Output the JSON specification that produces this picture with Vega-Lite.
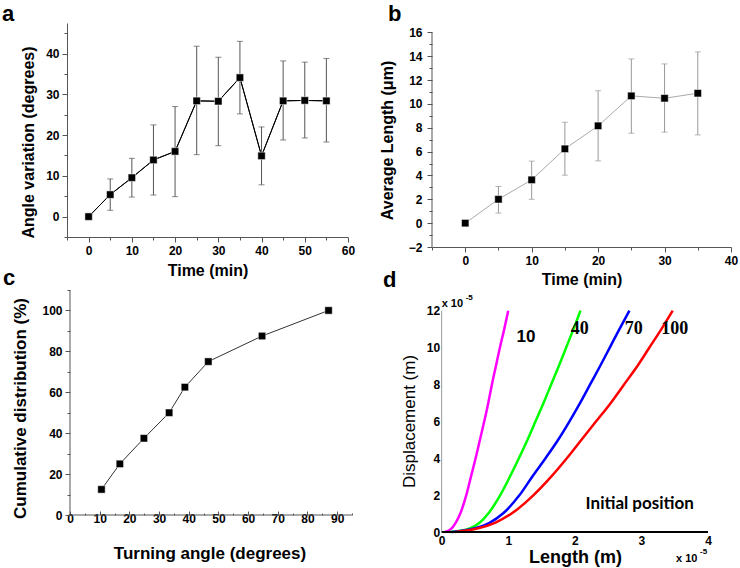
{
  "$schema": "https://vega.github.io/schema/vega-lite/v6.json",
  "autosize": {"type": "none"},
  "padding": {"left": 67, "top": 23, "right": 673, "bottom": 545},
  "background": "white",
  "config": {
    "view": {"stroke": null}
  },
  "columns": 2,
  "bounds": "flush",
  "spacing": {"row": 43, "column": 80},
  "concat": [
    {
      "width": 281, "height": 214,
      "resolve": {"axis": {"x": "independent", "y": "independent"}},
      "data": {"values": [
        {"t": 0, "v": 0},
        {"t": 5, "v": 5.4, "lo": 1.55, "hi": 9.25},
        {"t": 10, "v": 9.55, "lo": 4.8, "hi": 14.3},
        {"t": 15, "v": 13.9, "lo": 5.3, "hi": 22.5},
        {"t": 20, "v": 16.0, "lo": 4.9, "hi": 27.0},
        {"t": 25, "v": 28.4, "lo": 15.2, "hi": 41.8},
        {"t": 30, "v": 28.3, "lo": 17.4, "hi": 39.1},
        {"t": 35, "v": 34.1, "lo": 25.2, "hi": 43.0},
        {"t": 40, "v": 14.9, "lo": 7.8, "hi": 22.0},
        {"t": 45, "v": 28.4, "lo": 18.8, "hi": 38.2},
        {"t": 50, "v": 28.5, "lo": 19.3, "hi": 37.9},
        {"t": 55, "v": 28.4, "lo": 18.3, "hi": 38.8}
      ]},
      "layer": [
        {
          "mark": {"type": "line", "color": "black", "strokeWidth": 1},
          "encoding": {
            "x": {"field": "t", "type": "quantitative", "scale": {"domain": [-5, 60], "nice": false, "zero": false},
              "axis": {"orient": "bottom", "values": [0,10,20,30,40,50,60], "tickSize": 5,
                "labelFont": "Liberation Sans", "labelFontWeight": "bold", "labelFontSize": 12, "labelColor": "black",
                "labelOverlap": false, "labelFlush": false, "labelBound": false, "labelPadding": 3, "grid": false,
                "domainColor": "#555", "tickColor": "#555",
                "titleFont": "Liberation Sans", "titleFontWeight": "bold", "titleFontSize": 16, "titleColor": "black",
                "title": "Time (min)", "titleY": 38, "titleBaseline": "alphabetic"}},
            "y": {"field": "v", "type": "quantitative", "scale": {"domain": [-5, 47.5], "nice": false, "zero": false},
              "axis": {"orient": "left", "values": [0,10,20,30,40], "tickSize": 5,
                "labelFont": "Liberation Sans", "labelFontWeight": "bold", "labelFontSize": 12, "labelColor": "black",
                "labelOverlap": false, "labelFlush": false, "labelBound": false, "labelPadding": 3, "grid": false,
                "domainColor": "#555", "tickColor": "#555",
                "titleFont": "Liberation Sans", "titleFontWeight": "bold", "titleFontSize": 16, "titleColor": "black",
                "title": "Angle variation (degrees)", "titleX": -34, "titleY": 119, "titleBaseline": "alphabetic"}}
          }
        },
        {
          "data": {"values": [{}]},
          "mark": {"type": "text", "text": ""},
          "encoding": {
            "x": {"datum": 0, "type": "quantitative",
              "axis": {"orient": "bottom", "values": [-5,5,15,25,35,45,55], "labels": false, "domain": false, "tickSize": 3, "tickColor": "#555", "grid": false, "title": null}},
            "y": {"datum": 0, "type": "quantitative",
              "axis": {"orient": "left", "values": [-5,5,15,25,35,45], "labels": false, "domain": false, "tickSize": 3, "tickColor": "#555", "grid": false, "title": null}}
          }
        },
        {
          "transform": [{"filter": "isValid(datum.lo)"}],
          "mark": {"type": "rule", "color": "#555", "strokeWidth": 1},
          "encoding": {
            "x": {"field": "t", "type": "quantitative", "axis": null},
            "y": {"field": "lo", "type": "quantitative", "axis": null},
            "y2": {"field": "hi"}
          }
        },
        {
          "transform": [{"filter": "isValid(datum.lo)"}, {"fold": ["lo", "hi"], "as": ["k", "e"]}],
          "mark": {"type": "tick", "orient": "horizontal", "color": "#555", "size": 6, "thickness": 1},
          "encoding": {
            "x": {"field": "t", "type": "quantitative", "axis": null},
            "y": {"field": "e", "type": "quantitative", "axis": null}
          }
        },
        {
          "mark": {"type": "line", "color": "black", "strokeWidth": 1},
          "encoding": {
            "x": {"field": "t", "type": "quantitative", "axis": null},
            "y": {"field": "v", "type": "quantitative", "axis": null}
          }
        },
        {
          "mark": {"type": "point", "shape": "square", "filled": true, "fill": "black", "stroke": "white", "strokeWidth": 0.5, "size": 55, "opacity": 1},
          "encoding": {
            "x": {"field": "t", "type": "quantitative", "axis": null},
            "y": {"field": "v", "type": "quantitative", "axis": null}
          }
        },
        {
          "data": {"values": [{}]},
          "mark": {"type": "text", "text": "a", "align": "left", "baseline": "alphabetic", "dx": -65, "dy": -2, "font": "Liberation Sans", "fontSize": 22, "fontWeight": "bold", "color": "black"},
          "encoding": {"x": {"datum": -5, "type": "quantitative", "axis": null}, "y": {"datum": 47.5, "type": "quantitative", "axis": null}}
        }
      ]
    },
    {
      "width": 299, "height": 224,
      "resolve": {"axis": {"x": "independent", "y": "independent"}},
      "data": {"values": [
        {"t": 0, "v": 0},
        {"t": 5, "v": 2.0, "lo": 0.84, "hi": 3.07},
        {"t": 10, "v": 3.63, "lo": 2.0, "hi": 5.2},
        {"t": 15, "v": 6.23, "lo": 4.02, "hi": 8.46},
        {"t": 20, "v": 8.16, "lo": 5.22, "hi": 11.1},
        {"t": 25, "v": 10.67, "lo": 7.54, "hi": 13.77},
        {"t": 30, "v": 10.47, "lo": 7.63, "hi": 13.35},
        {"t": 35, "v": 10.89, "lo": 7.4, "hi": 14.36}
      ]},
      "layer": [
        {
          "mark": {"type": "line", "color": "#aaa", "strokeWidth": 1},
          "encoding": {
            "x": {"field": "t", "type": "quantitative", "scale": {"domain": [-5, 40], "nice": false, "zero": false},
              "axis": {"orient": "bottom", "values": [0,10,20,30,40], "tickSize": 5,
                "labelFont": "Liberation Sans", "labelFontWeight": "bold", "labelFontSize": 12, "labelColor": "black",
                "labelOverlap": false, "labelFlush": false, "labelBound": false, "labelPadding": 3, "grid": false,
                "domainColor": "#555", "tickColor": "#555",
                "titleFont": "Liberation Sans", "titleFontWeight": "bold", "titleFontSize": 16, "titleColor": "black",
                "title": "Time (min)", "titleY": 37, "titleBaseline": "alphabetic"}},
            "y": {"field": "v", "type": "quantitative", "scale": {"domain": [-2, 16.78], "nice": false, "zero": false},
              "axis": {"orient": "left", "values": [-2,0,2,4,6,8,10,12,14,16], "tickSize": 5, "domain": false,
                "labelFont": "Liberation Sans", "labelFontWeight": "bold", "labelFontSize": 12, "labelColor": "black",
                "labelOverlap": false, "labelFlush": false, "labelBound": false, "labelPadding": 5, "grid": false,
                "domainColor": "#555", "tickColor": "#555",
                "titleFont": "Liberation Sans", "titleFontWeight": "bold", "titleFontSize": 16, "titleColor": "black",
                "title": "Average Length (μm)", "titleX": -40, "titleY": 117, "titleBaseline": "alphabetic"}}
          }
        },
        {
          "data": {"values": [{}]},
          "mark": {"type": "text", "text": ""},
          "encoding": {
            "x": {"datum": 0, "type": "quantitative",
              "axis": {"orient": "bottom", "values": [-5,5,15,25,35], "labels": false, "domain": false, "tickSize": 3, "tickColor": "#555", "grid": false, "title": null}},
            "y": {"datum": 0, "type": "quantitative",
              "axis": {"orient": "left", "values": [-1,1,3,5,7,9,11,13,15], "labels": false, "domain": false, "tickSize": 3, "tickColor": "#555", "grid": false, "title": null}}
          }
        },
        {
          "transform": [{"filter": "isValid(datum.lo)"}],
          "mark": {"type": "rule", "color": "#999", "strokeWidth": 1},
          "encoding": {
            "x": {"field": "t", "type": "quantitative", "axis": null},
            "y": {"field": "lo", "type": "quantitative", "axis": null},
            "y2": {"field": "hi"}
          }
        },
        {
          "transform": [{"filter": "isValid(datum.lo)"}, {"fold": ["lo", "hi"], "as": ["k", "e"]}],
          "mark": {"type": "tick", "orient": "horizontal", "color": "#999", "size": 6, "thickness": 1},
          "encoding": {
            "x": {"field": "t", "type": "quantitative", "axis": null},
            "y": {"field": "e", "type": "quantitative", "axis": null}
          }
        },
        {
          "data": {"values": [{}]},
          "mark": {"type": "rule", "color": "#555", "strokeWidth": 1},
          "encoding": {"x": {"datum": -5, "type": "quantitative", "axis": null}, "y": {"datum": -2, "type": "quantitative", "axis": null}, "y2": {"datum": 16}}
        },
        {
          "mark": {"type": "point", "shape": "square", "filled": true, "fill": "black", "stroke": "white", "strokeWidth": 0.5, "size": 55, "opacity": 1},
          "encoding": {
            "x": {"field": "t", "type": "quantitative", "axis": null},
            "y": {"field": "v", "type": "quantitative", "axis": null}
          }
        },
        {
          "data": {"values": [{}]},
          "mark": {"type": "text", "text": "b", "align": "left", "baseline": "alphabetic", "dx": -44, "dy": -2, "font": "Liberation Sans", "fontSize": 22, "fontWeight": "bold", "color": "black"},
          "encoding": {"x": {"datum": -5, "type": "quantitative", "axis": null}, "y": {"datum": 16.78, "type": "quantitative", "axis": null}}
        }
      ]
    },
    {
      "width": 285, "height": 225,
      "resolve": {"axis": {"x": "independent", "y": "independent"}},
      "data": {"values": [
        {"a": 10.6, "c": 12.5},
        {"a": 16.8, "c": 25},
        {"a": 24.9, "c": 37.5},
        {"a": 33.4, "c": 50},
        {"a": 38.7, "c": 62.5},
        {"a": 46.6, "c": 75},
        {"a": 64.7, "c": 87.5},
        {"a": 87.1, "c": 100}
      ]},
      "layer": [
        {
          "mark": {"type": "line", "color": "#333", "strokeWidth": 1},
          "encoding": {
            "x": {"field": "a", "type": "quantitative", "scale": {"domain": [-1.01, 95], "nice": false, "zero": false},
              "axis": {"orient": "bottom", "values": [0,10,20,30,40,50,60,70,80,90], "tickSize": -4, "domain": false,
                "labelFont": "Liberation Sans", "labelFontWeight": "bold", "labelFontSize": 12, "labelColor": "black",
                "labelOverlap": false, "labelFlush": false, "labelBound": false, "labelPadding": 2, "grid": false,
                "domainColor": "#555", "tickColor": "#555",
                "titleFont": "Liberation Sans", "titleFontWeight": "bold", "titleFontSize": 17, "titleColor": "black",
                "title": "Turning angle (degrees)", "titleY": 43, "titleBaseline": "alphabetic"}},
            "y": {"field": "c", "type": "quantitative", "scale": {"domain": [0, 110], "nice": false, "zero": false},
              "axis": {"orient": "left", "values": [0,20,40,60,80,100], "tickSize": 5, "domain": false, "offset": -3,
                "labelFont": "Liberation Sans", "labelFontWeight": "bold", "labelFontSize": 12, "labelColor": "black",
                "labelOverlap": false, "labelFlush": false, "labelBound": false, "labelPadding": 3, "grid": false,
                "domainColor": "#555", "tickColor": "#555",
                "titleFont": "Liberation Sans", "titleFontWeight": "bold", "titleFontSize": 17, "titleColor": "black",
                "title": "Cumulative distribution (%)", "titleX": -45, "titleY": 118, "titleBaseline": "alphabetic"}}
          }
        },
        {
          "data": {"values": [{}]},
          "mark": {"type": "text", "text": ""},
          "encoding": {
            "x": {"datum": 0, "type": "quantitative",
              "axis": {"orient": "bottom", "values": [5,15,25,35,45,55,65,75,85,95], "labels": false, "domain": false, "tickSize": -2, "tickColor": "#555", "grid": false, "title": null}},
            "y": {"datum": 0, "type": "quantitative",
              "axis": {"orient": "left", "values": [10,30,50,70,90,110], "labels": false, "domain": false, "offset": -3, "tickSize": 3, "tickColor": "#555", "grid": false, "title": null}}
          }
        },
        {
          "data": {"values": [{}]},
          "mark": {"type": "rule", "color": "#555", "strokeWidth": 1},
          "encoding": {"x": {"datum": 0, "type": "quantitative", "axis": null}, "y": {"datum": 0, "type": "quantitative", "axis": null}, "y2": {"datum": 110}}
        },
        {
          "data": {"values": [{}]},
          "mark": {"type": "rule", "color": "#555", "strokeWidth": 1},
          "encoding": {"x": {"datum": 0, "type": "quantitative", "axis": null}, "x2": {"datum": 95}, "y": {"datum": 0, "type": "quantitative", "axis": null}}
        },
        {
          "mark": {"type": "point", "shape": "square", "filled": true, "fill": "black", "stroke": "white", "strokeWidth": 0.5, "size": 55, "opacity": 1},
          "encoding": {
            "x": {"field": "a", "type": "quantitative", "axis": null},
            "y": {"field": "c", "type": "quantitative", "axis": null}
          }
        },
        {
          "data": {"values": [{}]},
          "mark": {"type": "text", "text": "c", "align": "left", "baseline": "alphabetic", "dx": -64, "dy": -5, "font": "Liberation Sans", "fontSize": 22, "fontWeight": "bold", "color": "black"},
          "encoding": {"x": {"datum": -1.01, "type": "quantitative", "axis": null}, "y": {"datum": 110, "type": "quantitative", "axis": null}}
        }
      ]
    },
    {
      "width": 276, "height": 242,
      "data": {"values": [
        {"t": "10", "x": 0.05, "y": 0}, {"t": "10", "x": 0.15, "y": 0.2}, {"t": "10", "x": 0.21, "y": 0.5},
        {"t": "10", "x": 0.28, "y": 1}, {"t": "10", "x": 0.37, "y": 2}, {"t": "10", "x": 0.44, "y": 3},
        {"t": "10", "x": 0.51, "y": 4}, {"t": "10", "x": 0.575, "y": 5}, {"t": "10", "x": 0.64, "y": 6},
        {"t": "10", "x": 0.7, "y": 7}, {"t": "10", "x": 0.755, "y": 8}, {"t": "10", "x": 0.815, "y": 9},
        {"t": "10", "x": 0.875, "y": 10}, {"t": "10", "x": 0.94, "y": 11}, {"t": "10", "x": 1.0, "y": 12},
        {"t": "40", "x": 0.12, "y": 0}, {"t": "40", "x": 0.42, "y": 0.2}, {"t": "40", "x": 0.57, "y": 0.5},
        {"t": "40", "x": 0.7, "y": 1}, {"t": "40", "x": 0.88, "y": 2}, {"t": "40", "x": 1.025, "y": 3},
        {"t": "40", "x": 1.16, "y": 4}, {"t": "40", "x": 1.29, "y": 5}, {"t": "40", "x": 1.41, "y": 6},
        {"t": "40", "x": 1.53, "y": 7}, {"t": "40", "x": 1.645, "y": 8}, {"t": "40", "x": 1.76, "y": 9},
        {"t": "40", "x": 1.87, "y": 10}, {"t": "40", "x": 1.98, "y": 11}, {"t": "40", "x": 2.085, "y": 12},
        {"t": "70", "x": 0.15, "y": 0}, {"t": "70", "x": 0.5, "y": 0.2}, {"t": "70", "x": 0.72, "y": 0.5},
        {"t": "70", "x": 0.92, "y": 1}, {"t": "70", "x": 1.17, "y": 2}, {"t": "70", "x": 1.36, "y": 3},
        {"t": "70", "x": 1.56, "y": 4}, {"t": "70", "x": 1.75, "y": 5}, {"t": "70", "x": 1.92, "y": 6},
        {"t": "70", "x": 2.08, "y": 7}, {"t": "70", "x": 2.23, "y": 8}, {"t": "70", "x": 2.38, "y": 9},
        {"t": "70", "x": 2.525, "y": 10}, {"t": "70", "x": 2.67, "y": 11}, {"t": "70", "x": 2.82, "y": 12},
        {"t": "100", "x": 0.2, "y": 0}, {"t": "100", "x": 0.55, "y": 0.2}, {"t": "100", "x": 0.8, "y": 0.5},
        {"t": "100", "x": 1.05, "y": 1}, {"t": "100", "x": 1.38, "y": 2}, {"t": "100", "x": 1.645, "y": 3},
        {"t": "100", "x": 1.88, "y": 4}, {"t": "100", "x": 2.1, "y": 5}, {"t": "100", "x": 2.32, "y": 6},
        {"t": "100", "x": 2.54, "y": 7}, {"t": "100", "x": 2.74, "y": 8}, {"t": "100", "x": 2.94, "y": 9},
        {"t": "100", "x": 3.12, "y": 10}, {"t": "100", "x": 3.3, "y": 11}, {"t": "100", "x": 3.47, "y": 12}
      ]},
      "layer": [
        {
          "mark": {"type": "line", "strokeWidth": 2.5, "interpolate": "monotone"},
          "encoding": {
            "x": {"field": "x", "type": "quantitative", "scale": {"domain": [-0.145, 4], "nice": false, "zero": false},
              "axis": {"values": [0,1,2,3,4], "format": "d", "domain": false, "ticks": false,
                "labelFont": "Liberation Sans", "labelFontWeight": "bold", "labelFontSize": 12, "labelColor": "black",
                "labelOverlap": false, "labelFlush": false, "labelBound": false, "labelPadding": 3, "grid": false,
                "titleFont": "Liberation Sans", "titleFontWeight": "bold", "titleFontSize": 18, "titleColor": "black",
                "title": "Length (m)", "titleX": 143, "titleY": 30, "titleBaseline": "alphabetic"}},
            "y": {"field": "y", "type": "quantitative", "scale": {"domain": [0, 13.12], "nice": false, "zero": false},
              "axis": {"values": [0,2,4,6,8,10,12], "format": "d", "domain": false, "ticks": false, "offset": -9.7,
                "labelFont": "Liberation Sans", "labelFontWeight": "bold", "labelFontSize": 12, "labelColor": "black",
                "labelOverlap": false, "labelFlush": false, "labelBound": false, "labelPadding": 2, "grid": false,
                "titleFont": "Liberation Sans", "titleFontWeight": "normal", "titleFontSize": 17, "titleColor": "black",
                "title": "Displacement (m)", "titleX": -27, "titleY": 131, "titleBaseline": "alphabetic"}},
            "color": {"field": "t", "type": "nominal", "scale": {"domain": ["10", "40", "70", "100"], "range": ["#ff00ff", "#00ff00", "#0000ff", "#ff0000"]}, "legend": null},
            "order": {"field": "y", "type": "quantitative"}
          }
        },
        {
          "data": {"values": [{}]},
          "mark": {"type": "rule", "color": "#999", "strokeWidth": 1},
          "encoding": {"x": {"datum": 0, "type": "quantitative"}, "y": {"datum": 0, "type": "quantitative"}, "y2": {"datum": 12}}
        },
        {
          "data": {"values": [{}]},
          "mark": {"type": "rule", "color": "black", "strokeWidth": 2},
          "encoding": {"x": {"datum": 0, "type": "quantitative"}, "x2": {"datum": 4}, "y": {"datum": 0, "type": "quantitative"}}
        },
        {
          "data": {"values": [{}]},
          "mark": {"type": "text", "text": "10", "align": "center", "baseline": "alphabetic", "font": "Liberation Sans", "fontSize": 17, "fontWeight": "bold", "color": "black"},
          "encoding": {"x": {"datum": 1.265, "type": "quantitative"}, "y": {"datum": 10.31, "type": "quantitative"}}
        },
        {
          "data": {"values": [{}]},
          "mark": {"type": "text", "text": "40", "align": "center", "baseline": "alphabetic", "font": "Liberation Serif", "fontSize": 18, "fontWeight": "bold", "color": "black"},
          "encoding": {"x": {"datum": 2.075, "type": "quantitative"}, "y": {"datum": 10.73, "type": "quantitative"}}
        },
        {
          "data": {"values": [{}]},
          "mark": {"type": "text", "text": "70", "align": "center", "baseline": "alphabetic", "font": "Liberation Serif", "fontSize": 18, "fontWeight": "bold", "color": "black"},
          "encoding": {"x": {"datum": 2.885, "type": "quantitative"}, "y": {"datum": 10.73, "type": "quantitative"}}
        },
        {
          "data": {"values": [{}]},
          "mark": {"type": "text", "text": "100", "align": "center", "baseline": "alphabetic", "font": "Liberation Serif", "fontSize": 18, "fontWeight": "bold", "color": "black"},
          "encoding": {"x": {"datum": 3.5, "type": "quantitative"}, "y": {"datum": 10.73, "type": "quantitative"}}
        },
        {
          "data": {"values": [{}]},
          "mark": {"type": "text", "text": "Initial position", "align": "center", "baseline": "alphabetic", "font": "Lato", "fontSize": 17, "fontWeight": "bold", "color": "black"},
          "encoding": {"x": {"datum": 2.975, "type": "quantitative"}, "y": {"datum": 1.23, "type": "quantitative"}}
        },
        {
          "data": {"values": [{}]},
          "mark": {"type": "text", "text": "x 10", "align": "left", "baseline": "alphabetic", "dx": 0, "dy": -4, "font": "Liberation Sans", "fontSize": 11, "fontWeight": "bold", "color": "black"},
          "encoding": {"x": {"datum": 0, "type": "quantitative"}, "y": {"datum": 12, "type": "quantitative"}}
        },
        {
          "data": {"values": [{}]},
          "mark": {"type": "text", "text": "-5", "align": "left", "baseline": "alphabetic", "dx": 24, "dy": -11, "font": "Liberation Sans", "fontSize": 8, "fontWeight": "bold", "color": "black"},
          "encoding": {"x": {"datum": 0, "type": "quantitative"}, "y": {"datum": 12, "type": "quantitative"}}
        },
        {
          "data": {"values": [{}]},
          "mark": {"type": "text", "text": "x 10", "align": "left", "baseline": "alphabetic", "dx": -32, "dy": 30, "font": "Liberation Sans", "fontSize": 11, "fontWeight": "bold", "color": "black"},
          "encoding": {"x": {"datum": 4, "type": "quantitative"}, "y": {"datum": 0, "type": "quantitative"}}
        },
        {
          "data": {"values": [{}]},
          "mark": {"type": "text", "text": "-5", "align": "left", "baseline": "alphabetic", "dx": -8, "dy": 22, "font": "Liberation Sans", "fontSize": 8, "fontWeight": "bold", "color": "black"},
          "encoding": {"x": {"datum": 4, "type": "quantitative"}, "y": {"datum": 0, "type": "quantitative"}}
        },
        {
          "data": {"values": [{}]},
          "mark": {"type": "text", "text": "d", "align": "left", "baseline": "alphabetic", "dx": -49, "dy": -3, "font": "Liberation Sans", "fontSize": 22, "fontWeight": "bold", "color": "black"},
          "encoding": {"x": {"datum": -0.145, "type": "quantitative"}, "y": {"datum": 13.12, "type": "quantitative"}}
        }
      ]
    }
  ]
}
